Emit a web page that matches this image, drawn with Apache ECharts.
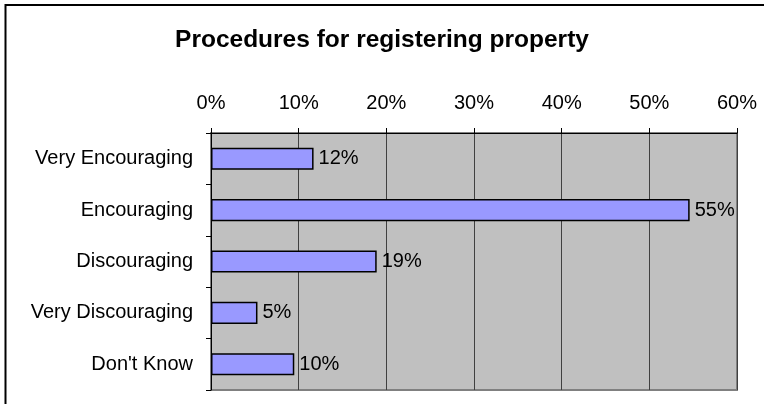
<!DOCTYPE html>
<html>
<head>
<meta charset="utf-8">
<title>Procedures for registering property</title>
<script src="https://cdn.jsdelivr.net/npm/echarts@6/dist/echarts.min.js"></script>
<style>
  html, body { margin: 0; padding: 0; background: #fff; }
  #chart { width: 764px; height: 404px; }
</style>
</head>
<body>
<div id="chart"></div>
<script>
// survey answers, top to bottom
const categories = ['Very Encouraging', 'Encouraging', 'Discouraging', 'Very Discouraging', "Don't Know"];
const shares = [11.7, 54.6, 18.9, 5.3, 9.5];
const axisTicks = [0, 10, 20, 30, 40, 50, 60];

const font = 'Liberation Sans, Arial, sans-serif';

const chart = echarts.init(document.getElementById('chart'));

const option = {
  animation: false,
  backgroundColor: '#fff',
  textStyle: { fontFamily: font },
  title: {
    text: 'Procedures for registering property',
    left: 'center',
    top: 23,
    textStyle: { fontFamily: font, fontSize: 24.5, fontWeight: 'bold', color: '#000' }
  },
  graphic: [
    {
      // chart frame (right and bottom edges fall outside the picture)
      type: 'rect',
      shape: { x: 5.5, y: 5, width: 820, height: 500 },
      style: { fill: 'none', stroke: '#000', lineWidth: 2 },
      silent: true
    }
  ],
  grid: {
    left: 211,
    right: 27,
    top: 133,
    bottom: 14,
    show: true,
    backgroundColor: '#C0C0C0',
    borderColor: '#808080',
    borderWidth: 2
  },
  xAxis: {
    type: 'value',
    position: 'top',
    min: axisTicks[0],
    max: axisTicks[axisTicks.length - 1],
    interval: axisTicks[1] - axisTicks[0],
    axisLine: { show: true, lineStyle: { color: '#000', width: 1 } },
    axisTick: { show: true, length: 5, lineStyle: { color: '#000' } },
    axisLabel: {
      formatter: '{value}%',
      margin: 20,
      fontSize: 20,
      color: '#000',
      fontFamily: font
    },
    splitLine: { show: true, lineStyle: { color: '#404040', width: 1 } }
  },
  yAxis: {
    type: 'category',
    data: categories,
    inverse: true,
    axisLine: { show: true, lineStyle: { color: '#000', width: 1 } },
    axisTick: { show: true, length: 5, lineStyle: { color: '#000' } },
    axisLabel: { margin: 18, fontSize: 20, color: '#000', fontFamily: font },
    splitLine: { show: false }
  },
  series: [
    {
      type: 'bar',
      data: shares,
      barWidth: '43%',
      itemStyle: { color: '#9999FF', borderColor: '#000', borderWidth: 1.5 },
      label: {
        show: true,
        position: 'right',
        distance: 5,
        fontSize: 20,
        color: '#000',
        fontFamily: font,
        formatter: p => Math.round(p.value) + '%'
      }
    }
  ]
};

chart.setOption(option);
</script>
</body>
</html>
